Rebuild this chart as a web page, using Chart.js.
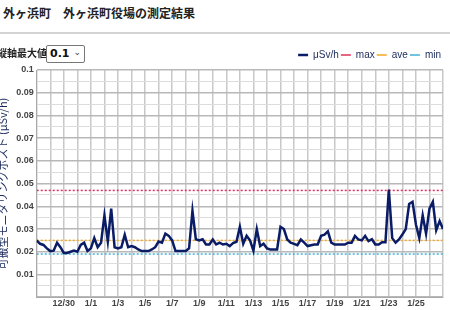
<!DOCTYPE html>
<html>
<head>
<meta charset="utf-8">
<script src="https://cdn.jsdelivr.net/npm/chart.js@4/dist/chart.umd.min.js"></script>
<style>
  body { margin: 0; width: 450px; height: 310px; overflow: hidden; background: #fff;
         font-family: "Noto Sans CJK JP", sans-serif; position: relative; }
  h1 { position: absolute; left: 3px; top: 4px; margin: 0; font-size: 12px; font-weight: bold; color: #222; }
  .rule { position: absolute; left: 0; top: 32px; width: 450px; height: 2px; background: #d4d4d4; }
  .ctrl { position: absolute; left: -3px; top: 45px; font-size: 10px; font-weight: bold; color: #222; }
  .sel { position: absolute; left: 46px; top: 45px; width: 34px; height: 16px; border: 1px solid #777;
         border-radius: 2px; font-family: "DejaVu Sans", sans-serif; font-size: 11px; font-weight: bold;
         line-height: 16px; padding-left: 3px; box-sizing: content-box; color: #111; background: #fff; }
  .sel span { position: absolute; right: 3px; top: -2px; font-size: 9px; font-weight: normal; color: #444; }
  #wrap { position: absolute; left: -4px; top: 48px; width: 451px; height: 262px; }
</style>
</head>
<body>
<h1>外ヶ浜町　外ヶ浜町役場の測定結果</h1>
<div class="rule"></div>
<div id="wrap"><canvas id="chart"></canvas></div>
<div class="ctrl">縦軸最大値</div>
<div class="sel">0.1<span>&#8964;</span></div>
<script>
// date labels, one per day (gridline), first = 12/28
const days = ['12/28', '12/29', '12/30', '12/31', '1/1', '1/2', '1/3', '1/4', '1/5', '1/6', '1/7',
              '1/8', '1/9', '1/10', '1/11', '1/12', '1/13', '1/14', '1/15', '1/16', '1/17', '1/18',
              '1/19', '1/20', '1/21', '1/22', '1/23', '1/24', '1/25', '1/26', '1/27'];
const perDay = 4; // readings every 6 hours

// μSv/h readings
const values = [
  0.025, 0.0235, 0.023, 0.0215, 0.0203, 0.0205, 0.024, 0.022, 0.0195, 0.0195,
  0.020, 0.0205, 0.020, 0.023, 0.024, 0.0203, 0.0215, 0.026, 0.022, 0.024,
  0.036, 0.0245, 0.039, 0.022, 0.0215, 0.022, 0.0275, 0.022, 0.0225, 0.022,
  0.021, 0.0203, 0.0203, 0.0203, 0.021, 0.022, 0.0245, 0.024, 0.028, 0.027,
  0.025, 0.0203, 0.0203, 0.0203, 0.0203, 0.0215, 0.038, 0.0255, 0.025, 0.0255,
  0.0232, 0.0232, 0.0254, 0.0232, 0.024, 0.0232, 0.0235, 0.0225, 0.0238, 0.0244,
  0.031, 0.0235, 0.027, 0.025, 0.0205, 0.030, 0.0225, 0.0235, 0.0215, 0.021,
  0.021, 0.021, 0.031, 0.030, 0.0254, 0.024, 0.0235, 0.0229, 0.0254, 0.024,
  0.0225, 0.0229, 0.0232, 0.0232, 0.027, 0.0275, 0.029, 0.024, 0.0232, 0.0232,
  0.0232, 0.0232, 0.024, 0.024, 0.027, 0.0254, 0.025, 0.027, 0.0247, 0.0255,
  0.0232, 0.0232, 0.0242, 0.0242, 0.0474, 0.026, 0.024, 0.0254, 0.0276, 0.030,
  0.041, 0.042, 0.032, 0.026, 0.036, 0.028, 0.039, 0.042, 0.0295, 0.0335,
  0.030
];

const maxValue = 0.047;
const aveValue = 0.025;
const minValue = 0.019;

const yMax = 0.1;

const points = values.map((v, i) => ({ x: i / perDay, y: v }));
const lastDay = days.length - 1;
const flat = v => [{ x: 0, y: v }, { x: lastDay, y: v }];

const refLine = (label, v, color) => ({
  label: label,
  data: flat(v),
  borderColor: color,
  backgroundColor: color,
  borderWidth: 1.5,
  borderDash: [2, 2],
  pointRadius: 0,
  fill: false
});

const tickFont = { family: 'Liberation Sans', size: 9, weight: 'bold' };

new Chart(document.getElementById('chart'), {
  type: 'line',
  data: {
    datasets: [
      {
        label: 'μSv/h',
        data: points,
        borderColor: '#0b1c66',
        backgroundColor: '#0b1c66',
        borderWidth: 2.5,
        pointRadius: 0,
        tension: 0,
        fill: false
      },
      refLine('max', maxValue, '#e0305a'),
      refLine('ave', aveValue, '#f0a820'),
      refLine('min', minValue, '#40b0d8')
    ]
  },
  options: {
    responsive: true,
    maintainAspectRatio: false,
    animation: false,
    layout: { padding: { top: 0, right: 4, bottom: 0, left: 0 } },
    plugins: {
      legend: {
        display: true,
        position: 'top',
        align: 'end',
        labels: {
          usePointStyle: true,
          pointStyle: 'line',
          pointStyleWidth: 10,
          boxHeight: 10,
          padding: 2,
          color: '#1b2a5c',
          font: { family: 'Liberation Sans', size: 10 }
        }
      },
      tooltip: { enabled: false }
    },
    scales: {
      x: {
        type: 'linear',
        min: 0,
        max: lastDay,
        ticks: {
          stepSize: 1,
          autoSkip: false,
          maxRotation: 0,
          padding: 1,
          color: '#444',
          font: tickFont,
          callback: function(v) {
            return (v % 2 === 0 && v > 0 && v < lastDay) ? days[v] : '';
          }
        },
        grid: { color: '#c8c8c8', lineWidth: 1.5, drawTicks: false },
        border: { color: '#aaa' }
      },
      y: {
        min: 0,
        max: yMax,
        ticks: {
          stepSize: 0.005,
          autoSkip: false,
          padding: 3,
          color: '#444',
          font: tickFont,
          callback: function(v) {
            const r = Math.round(v * 1000);
            return (r % 10 === 0 && r > 0) ? String(r / 1000) : '';
          }
        },
        grid: {
          drawTicks: false,
          color: ctx => (Math.round(ctx.tick.value * 1000) % 10 === 0) ? '#b8b8b8' : '#dcdcdc',
          lineWidth: ctx => (Math.round(ctx.tick.value * 1000) % 10 === 0) ? 1.5 : 1
        },
        border: { color: '#aaa' },
        title: {
          display: true,
          text: '可搬型モニタリングポスト (μSv/h)',
          color: '#1b2a5c',
          padding: { top: 0, bottom: 4 },
          font: { family: 'Noto Sans CJK JP', size: 11 }
        }
      }
    }
  }
});
</script>
</body>
</html>
